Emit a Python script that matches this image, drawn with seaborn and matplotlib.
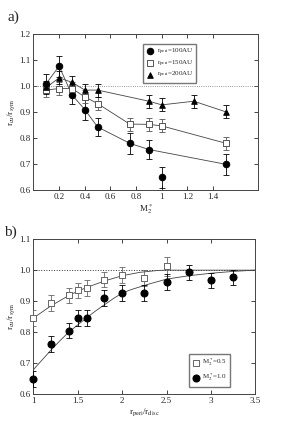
import numpy as np
import pandas as pd
import matplotlib
matplotlib.use("Agg")
import matplotlib.pyplot as plt
import seaborn as sns

# ------------------------------------------------------------
# data
# ------------------------------------------------------------
# panel a) : r_cu/r_sym vs M2*
m2_100 = [0.1, 0.2, 0.3, 0.4, 0.5, 0.75, 0.9, 1.0, 1.5]
r_100 = [1.010, 1.077, 0.967, 0.910, 0.843, 0.780, 0.756, 0.649, 0.699]
e_100 = [0.035, 0.040, 0.035, 0.040, 0.035, 0.040, 0.035, 0.040, 0.040]
joined_100 = [True, True, True, True, True, True, True, False, True]

m2_150 = [0.1, 0.2, 0.3, 0.4, 0.5, 0.75, 0.9, 1.0, 1.5]
r_150 = [0.985, 0.991, 0.991, 0.959, 0.933, 0.854, 0.853, 0.847, 0.780]
e_150 = [0.025] * 9

m2_200 = [0.1, 0.2, 0.3, 0.4, 0.5, 0.9, 1.0, 1.25, 1.5]
r_200 = [0.995, 1.032, 1.015, 0.985, 0.985, 0.942, 0.928, 0.942, 0.901]
e_200 = [0.025] * 9

# panel b) : r_cu/r_sym vs r_peri/r_disc
rp_05 = [1.0, 1.2, 1.4, 1.5, 1.6, 1.8, 2.0, 2.25, 2.5]
r_05 = [0.845, 0.894, 0.918, 0.935, 0.942, 0.969, 0.985, 0.975, 1.012]
e_05 = [0.025, 0.025, 0.025, 0.025, 0.025, 0.025, 0.025, 0.025, 0.030]

rp_10 = [1.0, 1.2, 1.4, 1.5, 1.6, 1.8, 2.0, 2.25, 2.5, 2.75, 3.0, 3.25]
r_10 = [0.648, 0.761, 0.804, 0.845, 0.845, 0.910, 0.926, 0.926, 0.961, 0.993, 0.967, 0.977]
e_10 = [0.025] * 12

# fitted curves
fit_x05 = [1.0, 1.2, 1.4, 1.5, 1.6, 1.8, 2.0, 2.2, 2.4, 2.5, 3.5]
fit_y05 = [0.845, 0.885, 0.918, 0.932, 0.944, 0.965, 0.982, 0.993, 0.999, 1.0, 1.0]
fit_x10 = [1.0, 1.1, 1.2, 1.3, 1.4, 1.5, 1.6, 1.7, 1.8, 1.9, 2.0, 2.1, 2.2, 2.3,
           2.4, 2.5, 2.75, 3.0, 3.25, 3.5]
fit_y10 = [0.678, 0.710, 0.742, 0.772, 0.800, 0.823, 0.846, 0.868, 0.888, 0.908,
           0.926, 0.937, 0.946, 0.955, 0.963, 0.971, 0.982, 0.990, 0.996, 1.0]

# ------------------------------------------------------------
# style
# ------------------------------------------------------------
sns.set_theme(style="ticks")
plt.rcParams["font.family"] = ["Liberation Serif", "DejaVu Serif"]
plt.rcParams["mathtext.fontset"] = "stix"
plt.rcParams["xtick.direction"] = "in"
plt.rcParams["ytick.direction"] = "in"
plt.rcParams["xtick.top"] = True
plt.rcParams["ytick.right"] = True
plt.rcParams["xtick.major.size"] = 3
plt.rcParams["ytick.major.size"] = 3
plt.rcParams["xtick.major.width"] = 0.6
plt.rcParams["ytick.major.width"] = 0.6
plt.rcParams["axes.linewidth"] = 0.7
plt.rcParams["axes.edgecolor"] = "#444444"

fs = 6.5
grey = "#777777"

fig = plt.figure(figsize=(2.88, 4.28), dpi=100)
ax1 = fig.add_axes([0.116, 0.556, 0.780, 0.364])
ax2 = fig.add_axes([0.116, 0.080, 0.771, 0.361])


def series(ax, x, y, e, marker, color, ms, label, join=None, line=True):
    df = pd.DataFrame({"x": x, "y": y, "e": e})
    if join is not None:
        dl = df[join]
    else:
        dl = df
    if line:
        sns.lineplot(data=dl, x="x", y="y", ax=ax, color="#444444", lw=0.6,
                     sort=False, legend=False)
    ax.errorbar(df["x"], df["y"], yerr=df["e"], fmt="none", ecolor=color,
                elinewidth=0.6, capsize=2, capthick=0.6, zorder=3)
    face = "white" if marker == "s" else color
    sns.scatterplot(data=df, x="x", y="y", ax=ax, marker=marker, s=ms,
                    facecolor=face, edgecolor=color, linewidth=0.7,
                    label=label, zorder=4, clip_on=False)


# ------------------------------------------------------------
# a)
# ------------------------------------------------------------
ax1.axhline(1.0, color=grey, ls=":", lw=0.6)
series(ax1, m2_100, r_100, e_100, "o", "black", 22,
       r"r$_{\rm peri}$=100AU", join=joined_100)
series(ax1, m2_150, r_150, e_150, "s", "#555555", 14, r"r$_{\rm peri}$=150AU")
series(ax1, m2_200, r_200, e_200, "^", "black", 16, r"r$_{\rm peri}$=200AU")

ax1.set_xlim(0, 1.75)
ax1.set_ylim(0.6, 1.2)
ax1.set_xticks([0.2, 0.4, 0.6, 0.8, 1.0, 1.2, 1.4])
ax1.set_xticklabels(["0.2", "0.4", "0.6", "0.8", "1", "1.2", "1.4"])
ax1.set_yticks(np.arange(0.6, 1.21, 0.1))
ax1.set_yticklabels(["0.6", "0.7", "0.8", "0.9", "1.0", "1.1", "1.2"])
ax1.set_xlabel(r"M$_2^*$", fontsize=fs, labelpad=1)
ax1.set_ylabel(r"r$_{\rm cu}$/r$_{\rm sym}$", fontsize=fs, labelpad=2)
ax1.tick_params(labelsize=fs, pad=2)
ax1.legend(loc="upper left", bbox_to_anchor=(0.49, 0.94), fontsize=5,
           frameon=True, fancybox=False, edgecolor="#555555",
           borderpad=0.4, handletextpad=0.3, labelspacing=0.25,
           handlelength=1.2, borderaxespad=0)

# ------------------------------------------------------------
# b)
# ------------------------------------------------------------
ax2.axhline(1.0, color="#333333", ls=":", lw=0.7)
fit = pd.DataFrame({"x": fit_x05, "y": fit_y05})
sns.lineplot(data=fit, x="x", y="y", ax=ax2, color="#444444", lw=0.6, legend=False)
fit = pd.DataFrame({"x": fit_x10, "y": fit_y10})
sns.lineplot(data=fit, x="x", y="y", ax=ax2, color="#444444", lw=0.6, legend=False)
series(ax2, rp_05, r_05, e_05, "s", "#666666", 16, r"M$_2^*$=0.5", line=False)
series(ax2, rp_10, r_10, e_10, "o", "black", 26, r"M$_2^*$=1.0", line=False)

ax2.set_xlim(1, 3.5)
ax2.set_ylim(0.6, 1.1)
ax2.set_xticks([1, 1.5, 2, 2.5, 3, 3.5])
ax2.set_xticklabels(["1", "1.5", "2", "2.5", "3", "3.5"])
ax2.set_yticks(np.arange(0.6, 1.11, 0.1))
ax2.set_yticklabels(["0.6", "0.7", "0.8", "0.9", "1.0", "1.1"])
ax2.set_xlabel(r"r$_{\rm peri}$/r$_{\rm disc}$", fontsize=fs, labelpad=1)
ax2.set_ylabel(r"r$_{\rm cu}$/r$_{\rm sym}$", fontsize=fs, labelpad=2)
ax2.tick_params(labelsize=fs, pad=2)
ax2.legend(loc="lower left", bbox_to_anchor=(0.70, 0.045), fontsize=5,
           frameon=True, fancybox=False, edgecolor="#555555",
           borderpad=0.5, handletextpad=0.4, labelspacing=0.5,
           handlelength=1.0, borderaxespad=0)

fig.text(0.025, 0.952, "a)", fontsize=11)
fig.text(0.015, 0.449, "b)", fontsize=11)

fig.savefig("out.png", dpi=100)
